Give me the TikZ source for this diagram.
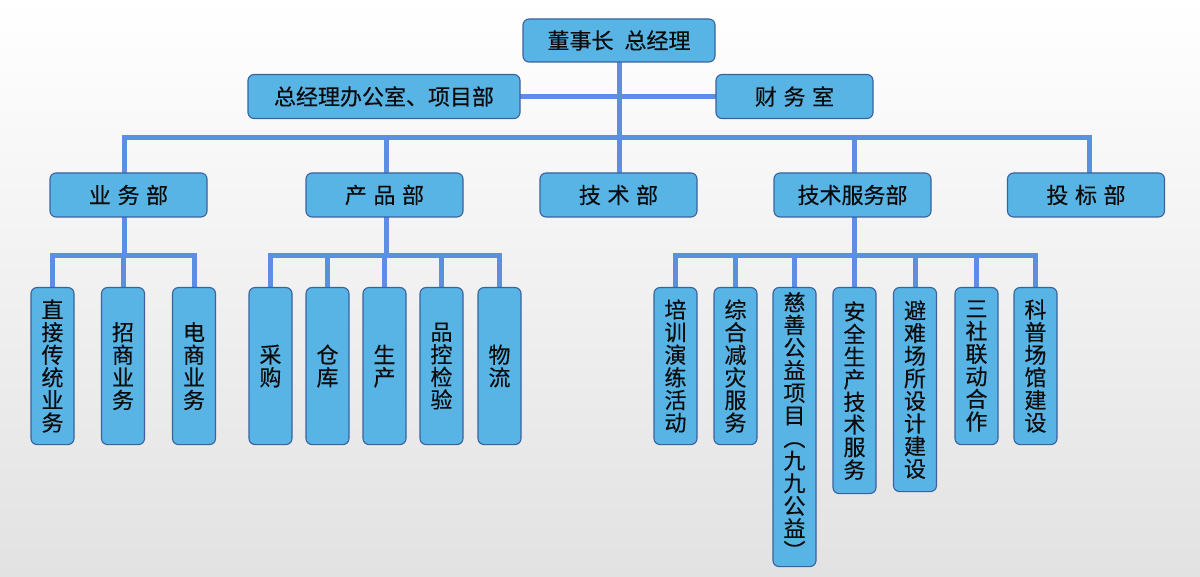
\documentclass[tikz,border=0pt]{standalone}
\usepackage{fontspec}
\newfontfamily\cjk[FakeBold=0.35]{Noto Sans CJK SC}
\definecolor{boxfill}{RGB}{88,180,229}
\definecolor{boxline}{RGB}{58,98,158}
\definecolor{connc}{RGB}{92,142,226}
\definecolor{textc}{RGB}{12,12,12}
\definecolor{bgbot}{RGB}{226,226,226}
\definecolor{bgmid}{RGB}{245,245,245}
\pgfdeclarelayer{bgshade}
\pgfdeclarelayer{lines}
\pgfsetlayers{bgshade,lines,main}
\newcommand{\gapsp}{\hspace{0.3em}}
\newcommand{\vparen}[1]{\rotatebox[origin=c]{-90}{#1}}
\begin{document}
\begin{tikzpicture}[x=1pt,y=-1pt,
  box/.style={draw=boxline, fill=boxfill, line width=1.1pt, rounded corners=6pt,
    inner sep=0pt, text=textc, font=\cjk\fontsize{22}{22.6}\selectfont},
  hbox/.style={box, minimum height=44pt},
  vbox/.style={box, minimum width=43pt, align=center, anchor=north},
  conn/.style={draw=connc, line width=5pt, line cap=rect}]
\begin{pgfonlayer}{bgshade}
\shade[top color=white, middle color=bgmid, bottom color=bgbot] (0,0) rectangle (1200,577);
\end{pgfonlayer}
\useasboundingbox (0,0) rectangle (1200,577);

% level 0 / 1
\node[hbox, minimum width=192pt, minimum height=43pt] (ceo) at (619,40.5) {董事长\hspace{0.5em}总经理};
\node[hbox, minimum width=272pt] (office) at (384,96.5) {总经理办公室、项目部};
\node[hbox, minimum width=157pt] (fin) at (794.5,96.5) {财\gapsp 务\gapsp 室};

% level 2
\node[hbox, minimum width=157pt] (yw) at (128.5,195) {业\gapsp 务\gapsp 部};
\node[hbox, minimum width=157pt] (cp) at (384.5,195) {产\gapsp 品\gapsp 部};
\node[hbox, minimum width=157pt] (js) at (618.5,195) {技\gapsp 术\gapsp 部};
\node[hbox, minimum width=157pt] (jf) at (852.5,195) {技术服务部};
\node[hbox, minimum width=157pt] (tb) at (1086,195) {投\gapsp 标\gapsp 部};

% children of 业务部
\node[vbox, minimum height=157pt] (y1) at (52.5,287) {直\\接\\传\\统\\业\\务};
\node[vbox, minimum height=157pt] (y2) at (123,287) {招\\商\\业\\务};
\node[vbox, minimum height=157pt] (y3) at (194,287) {电\\商\\业\\务};

% children of 产品部
\node[vbox, minimum height=157pt] (p1) at (270.5,287) {采\\购};
\node[vbox, minimum height=157pt] (p2) at (327.5,287) {仓\\库};
\node[vbox, minimum height=157pt] (p3) at (384.5,287) {生\\产};
\node[vbox, minimum height=157pt] (p4) at (441.5,287) {品\\控\\检\\验};
\node[vbox, minimum height=157pt] (p5) at (499.5,287) {物\\流};

% children of 技术服务部
\node[vbox, minimum height=157pt] (s1) at (675.5,287) {培\\训\\演\\练\\活\\动};
\node[vbox, minimum height=157pt] (s2) at (735.5,287) {综\\合\\减\\灾\\服\\务};
\node[vbox, minimum height=279pt] (s3) at (794.5,287) {慈\\善\\公\\益\\项\\目\\\vparen{（}\\九\\九\\公\\益\\\vparen{）}};
\node[vbox, minimum height=206pt] (s4) at (854.5,287) {安\\全\\生\\产\\技\\术\\服\\务};
\node[vbox, minimum height=204pt] (s5) at (915,287) {避\\难\\场\\所\\设\\计\\建\\设};
\node[vbox, minimum height=157pt] (s6) at (976.5,287) {三\\社\\联\\动\\合\\作};
\node[vbox, minimum height=157pt] (s7) at (1035.5,287) {科\\普\\场\\馆\\建\\设};

% bus points
\coordinate (busA) at (619,138);
\coordinate (tYW) at (124,138);
\coordinate (tCP) at (386,138);
\coordinate (tJS) at (619,138);
\coordinate (tJF) at (854,138);
\coordinate (tTB) at (1089,138);
\coordinate (busB) at (0,256);

\begin{pgfonlayer}{lines}
% top
\draw[conn] (office.east) -- (fin.west);
\draw[conn] (ceo.south) -- (busA);
\draw[conn] (tYW) -- (tTB);
\draw[conn] (tYW) -- (tYW |- yw.north);
\draw[conn] (tCP) -- (tCP |- cp.north);
\draw[conn] (tJS) -- (tJS |- js.north);
\draw[conn] (tJF) -- (tJF |- jf.north);
\draw[conn] (tTB) -- (tTB |- tb.north);
% 业务部
\draw[conn] (tYW |- yw.south) -- (tYW |- busB);
\draw[conn] (y1.north |- busB) -- (y3.north |- busB);
\foreach \n in {y1,y2,y3} \draw[conn] (\n.north |- busB) -- (\n.north);
% 产品部
\draw[conn] (tCP |- cp.south) -- (tCP |- busB);
\draw[conn] (p1.north |- busB) -- (p5.north |- busB);
\foreach \n in {p1,p2,p3,p4,p5} \draw[conn] (\n.north |- busB) -- (\n.north);
% 技术服务部
\draw[conn] (tJF |- jf.south) -- (tJF |- busB);
\draw[conn] (s1.north |- busB) -- (s7.north |- busB);
\foreach \n in {s1,s2,s3,s4,s5,s6,s7} \draw[conn] (\n.north |- busB) -- (\n.north);
\end{pgfonlayer}
\end{tikzpicture}
\end{document}
